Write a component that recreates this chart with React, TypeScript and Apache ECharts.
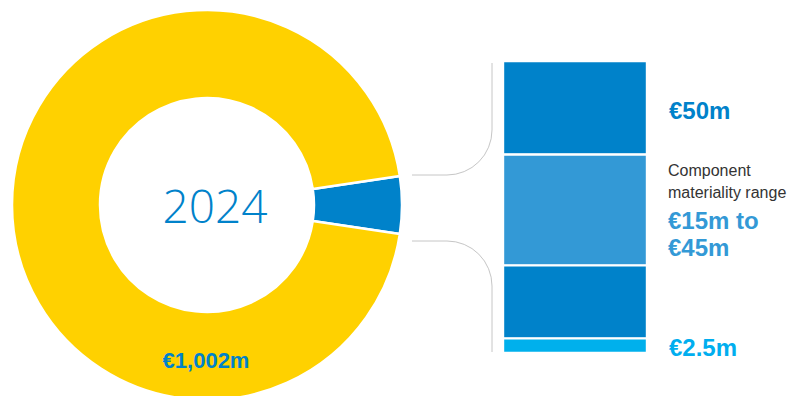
import React, { useEffect, useRef } from "react";
import * as echarts from "echarts";

const yearLabel = "2024";
const donutNames = ["Materiality", "Total"];
const donutValues = [50, 1002];
const donutColors = ["#0082CA", "#FFD100"];
const totalLabel = "€1,002m";

const barNames = ["Lower", "Low band", "Component range", "Upper"];
const barValues = [2.5, 12.5, 19, 16];
const barColors = ["#00B0EC", "#0082CA", "#3399D6", "#0082CA"];

const topLabel = "€50m";
const rangeCaption = ["Component", "materiality range"];
const rangeLabel = ["€15m to", "€45m"];
const bottomLabel = "€2.5m";

const FONT = "'Liberation Sans', Arial, Helvetica, sans-serif";

export default function App() {
  const ref = useRef<HTMLDivElement>(null);
  useEffect(() => {
    if (!ref.current) return;
    const chart = echarts.init(ref.current, undefined, { renderer: "svg" });
    const total = donutValues.reduce((a, b) => a + b, 0);
    const half = (donutValues[0] / total) * 180;
    const gray = "#C6C6C6";
    const lineStyle = { stroke: gray, lineWidth: 1, fill: "none" };

    chart.setOption({
      animation: false,
      backgroundColor: "#ffffff",
      grid: { left: 503, top: 61, width: 144, height: 292 },
      xAxis: { type: "category", data: ["bar"], show: false },
      yAxis: { type: "value", min: 0, max: 50, show: false },
      series: [
        {
          type: "pie",
          center: [207, 205],
          radius: [107, 195],
          startAngle: half,
          clockwise: true,
          silent: true,
          z: 1,
          label: { show: false },
          labelLine: { show: false },
          itemStyle: { borderColor: "#ffffff", borderWidth: 2.5 },
          data: donutValues.map((v, i) => ({
            name: donutNames[i],
            value: v,
            itemStyle: { color: donutColors[i] },
          })),
        },
        ...barValues.map((v, i) => ({
          type: "bar",
          name: barNames[i],
          stack: "s",
          barWidth: "100%",
          silent: true,
          data: [v],
          itemStyle: { color: barColors[i], borderColor: "#ffffff", borderWidth: 1.2 },
        })),
      ],
      graphic: [
        {
          type: "text",
          x: 215,
          y: 205,
          z: 100,
          style: {
            text: yearLabel,
            fill: "#0082CA",
            font: `300 46px 'Open Sans', ${FONT}`,
            textAlign: "center",
            textVerticalAlign: "middle",
          },
        },
        {
          type: "text",
          x: 206,
          y: 360,
          z: 100,
          style: {
            text: totalLabel,
            fill: "#0082CA",
            font: `bold 22px ${FONT}`,
            textAlign: "center",
            textVerticalAlign: "middle",
          },
        },
        // connectors
        { type: "line", shape: { x1: 412, y1: 175, x2: 447, y2: 175 }, style: lineStyle },
        { type: "arc", shape: { cx: 447, cy: 130, r: 45, startAngle: 0, endAngle: Math.PI / 2, clockwise: true }, style: lineStyle },
        { type: "line", shape: { x1: 492, y1: 130, x2: 492, y2: 63 }, style: lineStyle },
        { type: "line", shape: { x1: 412, y1: 241, x2: 447, y2: 241 }, style: lineStyle },
        { type: "arc", shape: { cx: 447, cy: 286, r: 45, startAngle: -Math.PI / 2, endAngle: 0, clockwise: true }, style: lineStyle },
        { type: "line", shape: { x1: 492, y1: 286, x2: 492, y2: 352 }, style: lineStyle },
        // right labels
        {
          type: "text",
          x: 669,
          y: 110,
          z: 100,
          style: { text: topLabel, fill: "#0082CA", font: `bold 24px ${FONT}`, textVerticalAlign: "middle" },
        },
        {
          type: "text",
          x: 668,
          y: 170,
          z: 100,
          style: { text: rangeCaption[0], fill: "#333333", font: `16px ${FONT}`, textVerticalAlign: "middle" },
        },
        {
          type: "text",
          x: 668,
          y: 192,
          z: 100,
          style: { text: rangeCaption[1], fill: "#333333", font: `16px ${FONT}`, textVerticalAlign: "middle" },
        },
        {
          type: "text",
          x: 668,
          y: 220,
          z: 100,
          style: { text: rangeLabel[0], fill: "#3399D6", font: `bold 24px ${FONT}`, textVerticalAlign: "middle" },
        },
        {
          type: "text",
          x: 668,
          y: 247,
          z: 100,
          style: { text: rangeLabel[1], fill: "#3399D6", font: `bold 24px ${FONT}`, textVerticalAlign: "middle" },
        },
        {
          type: "text",
          x: 669,
          y: 347,
          z: 100,
          style: { text: bottomLabel, fill: "#00AEEF", font: `bold 24px ${FONT}`, textVerticalAlign: "middle" },
        },
      ],
    });
    return () => chart.dispose();
  }, []);
  return (
    <div
      ref={ref}
      style={{ position: "fixed", left: 0, top: 0, width: 803, height: 396 }}
    />
  );
}
